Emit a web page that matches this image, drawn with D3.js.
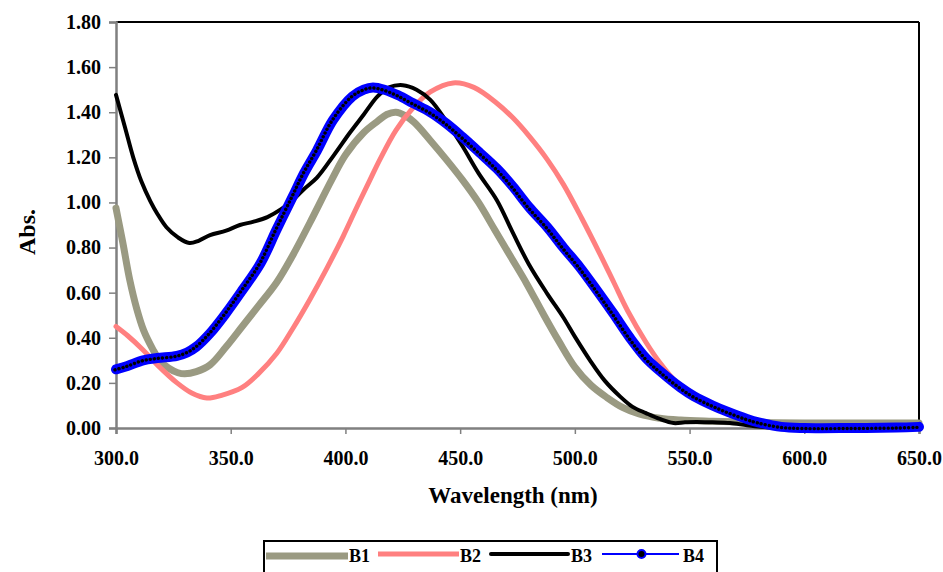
<!DOCTYPE html>
<html>
<head>
<meta charset="utf-8">
<script src="https://cdn.jsdelivr.net/npm/d3@7"></script>
<style>
  html, body { margin: 0; padding: 0; background: #fff; }
  svg { display: block; }
  text { font-family: "Liberation Serif", "Times New Roman", serif; font-weight: bold; fill: #000; }
</style>
</head>
<body>
<svg id="chart" width="943" height="572"></svg>
<script>
// ---- data ----
const xTicks = [300, 350, 400, 450, 500, 550, 600, 650];
const yTicks = [0, 0.2, 0.4, 0.6, 0.8, 1.0, 1.2, 1.4, 1.6, 1.8];
const seriesNames = ["B1", "B2", "B3", "B4"];

const wlB1 = [300,303,306,309,312,316,319,323,327,330,335,341,348,355,362,370,377,384.5,394,400,408,414,418,422,426,430,437,444,451,458,465,472,479,486,493,500,507,514,521,528,537,546,560,580,600,625,650];
const absB1 = [0.975,0.82,0.656,0.53,0.434,0.35,0.30,0.265,0.245,0.24,0.25,0.28,0.36,0.45,0.54,0.645,0.765,0.91,1.10,1.21,1.31,1.36,1.39,1.40,1.385,1.355,1.275,1.19,1.10,1.00,0.88,0.76,0.64,0.51,0.385,0.27,0.19,0.135,0.09,0.062,0.043,0.035,0.03,0.025,0.022,0.022,0.022];

const wlB2 = [300,305,311.8,318,326.6,333,339.6,346,355,362,370,377,384.5,392,399,405,410.7,415,422,429.5,437,447,456,466,473,480,488,495,503,511,517,523,531,537,544.5,551,559,566,573,580,590,600,620,650];
const absB2 = [0.45,0.41,0.346,0.28,0.20,0.155,0.133,0.145,0.18,0.24,0.33,0.44,0.57,0.71,0.85,0.98,1.10,1.19,1.32,1.42,1.49,1.53,1.51,1.44,1.375,1.295,1.19,1.08,0.93,0.77,0.645,0.52,0.38,0.29,0.20,0.15,0.11,0.075,0.05,0.03,0.015,0.008,0.003,0.005];

const wlB3 = [300,304,307.5,311,315,318,322,327,332,336,341,348,354,360,366,372,377,382,387.6,395,402,408,414,419,425,431,437,444,451,458,466,473,480,488,495,500,506.6,513,520,525,531,537,543,548,553,560,567.6,575,582,590,600,610,620,630,650];
const absB3 = [1.477,1.33,1.20,1.095,1.005,0.95,0.89,0.845,0.82,0.83,0.855,0.875,0.90,0.915,0.935,0.97,1.01,1.06,1.11,1.21,1.31,1.39,1.47,1.51,1.52,1.50,1.455,1.36,1.25,1.13,1.01,0.865,0.725,0.595,0.49,0.405,0.30,0.21,0.137,0.095,0.066,0.04,0.022,0.025,0.027,0.025,0.022,0.012,0.004,0.005,0.008,0.005,0.006,0.004,0.005];

const wlB4 = [300,305,311.8,318,326.6,331,335,341,348,355,363,370,377,382,387.6,394.6,403,408,412,417,423,429.5,437,444,451,458.6,466,473,480,488,495,502,509.6,516.6,524,531,538,546,552,560,567,575,580,590,600,620,640,650];
const absB4 = [0.26,0.275,0.30,0.31,0.32,0.335,0.36,0.42,0.51,0.61,0.73,0.88,1.025,1.13,1.23,1.365,1.47,1.50,1.51,1.50,1.475,1.44,1.40,1.35,1.29,1.22,1.15,1.07,0.98,0.89,0.80,0.715,0.61,0.51,0.40,0.31,0.245,0.18,0.14,0.10,0.07,0.04,0.025,0.005,0.0,0.0,0.002,0.005];

const seriesData = [
  {name: "B1", wl: wlB1, abs: absB1},
  {name: "B2", wl: wlB2, abs: absB2},
  {name: "B3", wl: wlB3, abs: absB3},
  {name: "B4", wl: wlB4, abs: absB4}
];

// ---- styles ----
const styles = {
  B1: {color: "#9a9a82", width: 7},
  B2: {color: "#ff8080", width: 5},
  B3: {color: "#000000", width: 4},
  B4: {color: "#0000ff", width: 10}
};

// ---- layout ----
const svg = d3.select("#chart");
const pL = 116, pR = 919, pT = 22, pB = 428;

const x = d3.scaleLinear().domain([300, 650]).range([pL, pR]);
const y = d3.scaleLinear().domain([0, 1.8]).range([pB, pT]);

// plot frame (top & right black)
svg.append("line").attr("x1", pL).attr("x2", pR).attr("y1", pT).attr("y2", pT)
  .attr("stroke", "#000").attr("stroke-width", 2);
svg.append("line").attr("x1", pR).attr("x2", pR).attr("y1", pT).attr("y2", pB)
  .attr("stroke", "#000").attr("stroke-width", 2);

// axes
const yAxis = d3.axisLeft(y).tickValues(yTicks).tickFormat(d3.format(".2f")).tickSize(7).tickPadding(8);
const xAxis = d3.axisBottom(x).tickValues(xTicks).tickFormat(d3.format(".1f")).tickSize(6).tickPadding(17);

const gy = svg.append("g").attr("transform", `translate(${pL},0)`).call(yAxis);
const gx = svg.append("g").attr("transform", `translate(0,${pB})`).call(xAxis);
[gx, gy].forEach(g => {
  g.select(".domain").attr("stroke", "#808080").attr("stroke-width", 2.5);
  g.selectAll(".tick line").attr("stroke", "#808080").attr("stroke-width", 1.5);
  g.selectAll(".tick text").style("font-family", '"Liberation Serif", serif')
    .style("font-weight", "bold").style("font-size", "20px").attr("fill", "#000");
});

// axis titles
svg.append("text").attr("x", 513).attr("y", 503).attr("text-anchor", "middle")
  .style("font-size", "23px").text("Wavelength (nm)");
svg.append("text").attr("transform", "translate(35,232) rotate(-90)").attr("text-anchor", "middle")
  .style("font-size", "24px").text("Abs.");

// lines
const line = d3.line().x(d => x(d[0])).y(d => y(d[1])).curve(d3.curveCatmullRom.alpha(0.5));
seriesData.forEach(s => {
  const pts = s.wl.map((w, i) => [w, s.abs[i]]);
  const st = styles[s.name];
  svg.append("path").datum(pts).attr("d", line).attr("fill", "none")
    .attr("stroke", st.color).attr("stroke-width", st.width)
    .attr("stroke-linejoin", "round").attr("stroke-linecap", "round");
  if (s.name === "B4") {
    svg.append("path").datum(pts).attr("d", line).attr("fill", "none")
      .attr("stroke", "#000").attr("stroke-width", 3.4)
      .attr("stroke-linecap", "round").attr("stroke-dasharray", "0.1 4")
      .attr("transform", "translate(-1,0.5)");
  }
});

// legend
const lg = svg.append("g");
lg.append("rect").attr("x", 264).attr("y", 541).attr("width", 453).attr("height", 40)
  .attr("fill", "#fff").attr("stroke", "#000").attr("stroke-width", 2);
const legendItems = [
  {name: "B1", x1: 266, x2: 348, ly: 556, tx: 349},
  {name: "B2", x1: 378, x2: 459, ly: 554, tx: 460},
  {name: "B3", x1: 491, x2: 568, ly: 554, tx: 571},
  {name: "B4", x1: 602, x2: 679, ly: 554, tx: 683}
];
legendItems.forEach(it => {
  const st = styles[it.name];
  lg.append("line").attr("x1", it.x1).attr("x2", it.x2).attr("y1", it.ly).attr("y2", it.ly)
    .attr("stroke", st.color)
    .attr("stroke-width", it.name === "B4" ? 2 : (it.name === "B1" ? 7 : st.width))
    .attr("stroke-linecap", it.name === "B3" ? "round" : "butt");
  if (it.name === "B4") {
    lg.append("circle").attr("cx", (it.x1 + it.x2) / 2 + 1).attr("cy", it.ly).attr("r", 4)
      .attr("fill", "#000").attr("stroke", st.color).attr("stroke-width", 2);
  }
  lg.append("text").attr("x", it.tx).attr("y", 562).style("font-size", "18px").text(it.name);
});
</script>
</body>
</html>
